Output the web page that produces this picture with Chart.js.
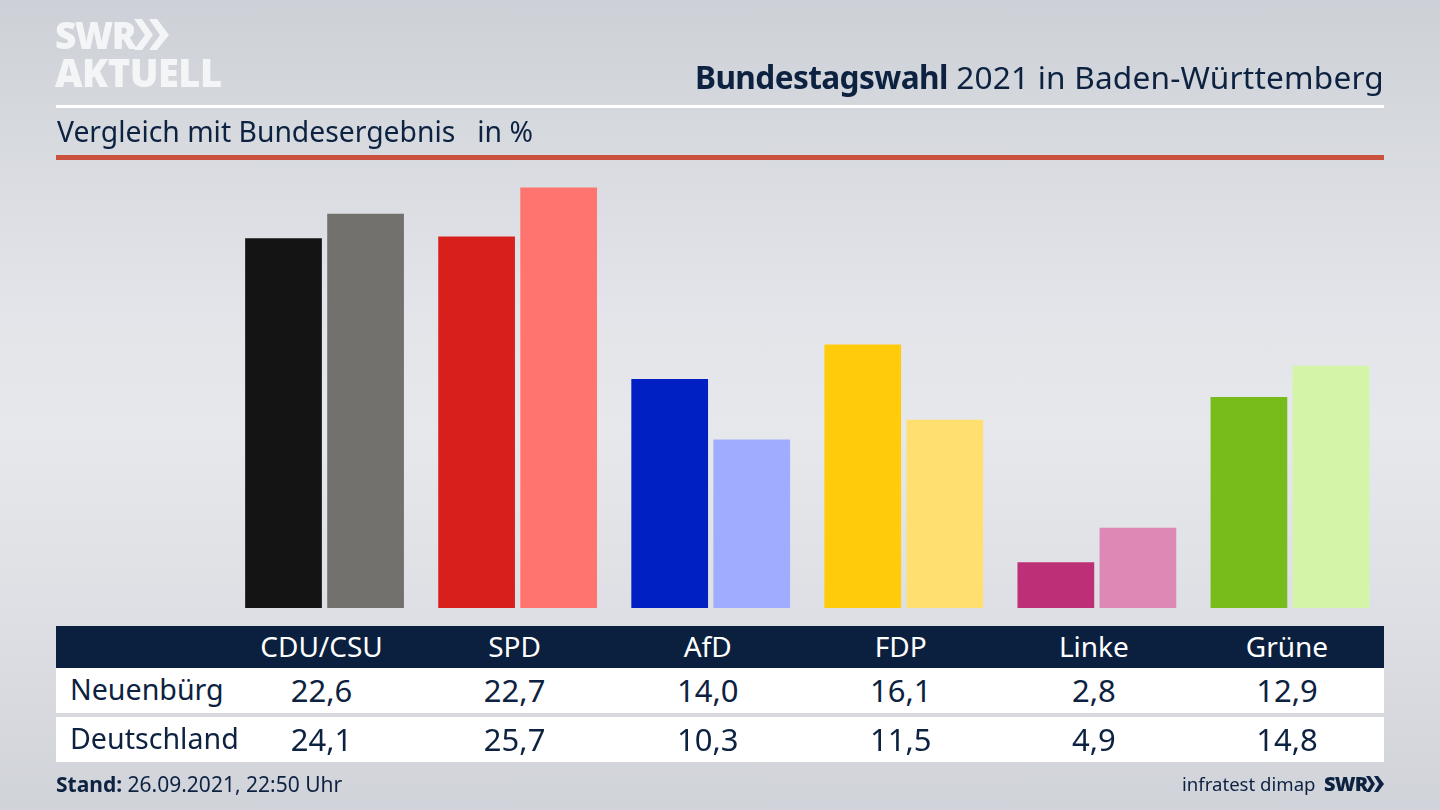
<!DOCTYPE html>
<html lang="de"><head><meta charset="utf-8">
<script src="https://cdn.jsdelivr.net/npm/chart.js@4"></script>
<style>
html,body{margin:0;padding:0;width:1440px;height:810px;overflow:hidden}
body{position:relative;font-family:"Noto Sans",sans-serif;color:#0c2240;
background:linear-gradient(180deg,#cdd1d7 0,#d6d9de 130px,#e3e4e9 300px,#e7e8ec 430px,#dedfe4 620px,#d0d3d9 810px);}
.t{position:absolute;white-space:pre;line-height:1}
.r{position:absolute;left:56px;width:1328px}
canvas{position:absolute;left:0;top:0}
.c{transform:translateX(-50%)}
</style></head><body>
<canvas id="c" width="1440" height="810"></canvas>
<div class="t" style="left:55px;top:16px;font:900 37px/1 'Open Sans';color:#f4f5f6;letter-spacing:-1.5px">SWR</div>
<svg style="position:absolute;left:134px;top:19px" width="38" height="34"><path fill="#f4f5f6" d="M0 0h8l11 16-11 15H0l11-15zM15 0h8l12 16-12 15h-8l11-15z"/></svg>
<div class="t" style="left:55px;top:53px;font:800 38px/1 'Open Sans';color:#f4f5f6;letter-spacing:-.5px">AKTUELL</div>
<div class="t" id="title" style="right:56px;top:61px;font-size:31.6px;"><b style="letter-spacing:-.6px">Bundestagswahl</b><span style="letter-spacing:.2px"> 2021 in Baden-Württemberg</span></div>
<div class="r" style="top:105px;height:3px;background:#fff"></div>
<div class="t" style="left:57px;top:117px;font-size:28.3px">Vergleich mit Bundesergebnis   in %</div>
<div class="r" style="top:155px;height:5px;background:#c9513d"></div>
<div class="r" style="top:626px;height:42px;background:#0b203e"></div>
<div class="r" style="top:668px;height:45px;background:#fff"></div>
<div class="r" style="top:717px;height:45px;background:#fff"></div>
<div id="table"></div>
<div class="t" style="left:56px;top:774px;font-size:21px"><b>Stand:</b> 26.09.2021, 22:50 Uhr</div>
<div class="t" style="left:1182px;top:775px;font-size:18.6px">infratest dimap</div>
<div class="t" style="left:1324px;top:774px;font:900 20px/1 'Open Sans';letter-spacing:-.8px">SWR</div>
<svg style="position:absolute;left:1366px;top:776px" width="18" height="16"><path fill="#0c2240" d="M0 0h4l5 8-5 8H0l5-8zM8 0h4l6 8-6 8H8l5-8z"/></svg>
<script>
const parties=["CDU/CSU","SPD","AfD","FDP","Linke","Grüne"];
const rowNames=["Neuenbürg","Deutschland"];
const neuenbuerg=[22.6,22.7,14.0,16.1,2.8,12.9];
const deutschland=[24.1,25.7,10.3,11.5,4.9,14.8];
const coloursLocal=["#141414","#d81f1c","#0020c4","#ffcb0a","#bd2f76","#78bc1c"];
const coloursNational=["#72716e","#ff746e","#9eadff","#ffdf70","#de88b5","#d4f5a8"];
const fmt=v=>v.toFixed(1).replace(".",",");
let chart=new Chart(document.getElementById("c"),{
  type:"bar",
  data:{labels:parties,datasets:[
    {label:rowNames[0],data:neuenbuerg,backgroundColor:coloursLocal},
    {label:rowNames[1],data:deutschland,backgroundColor:coloursNational}]},
  options:{responsive:false,animation:false,
    layout:{padding:{left:228,right:53.5,top:182.6,bottom:202}},
    categoryPercentage:0.85,barPercentage:0.935,
    plugins:{legend:{display:false},tooltip:{enabled:false},title:{display:false}},
    scales:{x:{display:false},y:{display:false,min:0,max:26}}}
});
const tbl=document.getElementById("table");
function put(txt,x,y,color,cls,size){const d=document.createElement("div");d.className="t "+cls;d.textContent=txt;
  d.style.cssText=`left:${x}px;top:${y}px;color:${color};font-size:${size}px`;tbl.appendChild(d);}
parties.forEach((p,i)=>{
  const x=chart.scales.x.getPixelForValue(i);
  put(p,x-3,632,"#fff","c",28);
  put(fmt(neuenbuerg[i]),x-3,675,"#0c2240","c",31);
  put(fmt(deutschland[i]),x-3,724,"#0c2240","c",31);
});
put(rowNames[0],70,675,"#0c2240","",28.6);
put(rowNames[1],70,724,"#0c2240","",28.6);
</script>
</body></html>
